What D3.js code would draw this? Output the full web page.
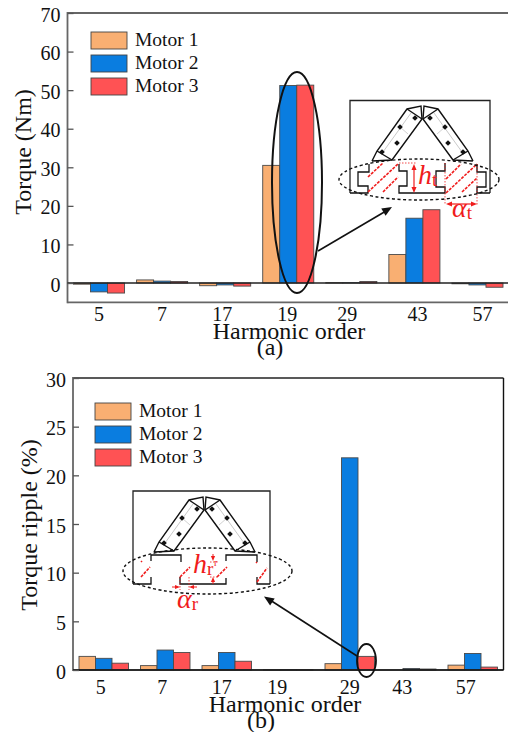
<!DOCTYPE html>
<html><head><meta charset="utf-8">
<script src="https://cdn.jsdelivr.net/npm/d3@7/dist/d3.min.js"></script>
<style>html,body{margin:0;background:#fff;overflow:hidden}svg{display:block}text{font-family:"Liberation Serif",serif;fill:#111}</style>
</head><body><div id="c"></div>
<script>
const harmonics = ["5","7","17","19","29","43","57"];
const seriesNames = ["Motor 1","Motor 2","Motor 3"];
const colors = ["#f9af72","#0a7de0","#ff5254"];
const torque1 = [-0.3,0.8,-0.7,30.5,0.1,7.4,-0.2];
const torque2 = [-2.3,0.5,-0.5,51.2,0.1,16.8,-0.5];
const torque3 = [-2.6,0.4,-0.8,51.3,0.4,19.0,-1.1];
const ripple1 = [1.4,0.45,0.45,0.02,0.65,0,0.5];
const ripple2 = [1.2,2.05,1.8,0.03,21.8,0.15,1.7];
const ripple3 = [0.7,1.8,0.9,0.02,1.4,0.1,0.3];
const torqueTicks = [0,10,20,30,40,50,60,70];
const rippleTicks = [0,5,10,15,20,25,30];

const W=508,H=732;
const svg=d3.select("#c").append("svg").attr("width",W).attr("height",H);
const RED="#f01c1c";

function panel(o){
  const g=svg.append("g");
  const x=d3.scaleBand().domain(harmonics).range([o.l,o.r]).paddingInner(o.pad).paddingOuter(o.pad/2);
  const x1=d3.scaleBand().domain([0,1,2]).range([0,x.bandwidth()]);
  const y=d3.scaleLinear().domain(o.dom).range([o.b,o.t]);
  o.series.forEach((s,i)=>{
    g.append("g").selectAll("rect").data(s).join("rect")
      .attr("x",(d,j)=>x(harmonics[j])+x1(i))
      .attr("width",x1.bandwidth())
      .attr("y",d=>Math.min(y(d),y(0)))
      .attr("height",d=>Math.abs(y(d)-y(0)))
      .attr("fill",colors[i]).attr("stroke","#4a4a4a").attr("stroke-width",0.9);
  });
  const fl=(a,b,c,d,col,w)=>g.append("line").attr("x1",a).attr("y1",b).attr("x2",c).attr("y2",d).attr("stroke",col).attr("stroke-width",w);
  fl(o.l,o.t,o.r,o.t,o.topCol,o.topW);
  fl(o.l,o.t-1,o.l,o.b+1,"#666",1.8);
  fl(o.l,o.b,o.r,o.b,o.botCol,o.botW);
  if(o.right) fl(o.r,o.t,o.r,o.b,"#111",1.4);
  fl(o.l,y(0),o.r,y(0),"#222",1.4);
  const ya=g.append("g").attr("transform",`translate(${o.l},0)`)
    .call(d3.axisLeft(y).tickValues(o.ticks).tickSize(-6).tickPadding(7).tickFormat(d3.format("d")));
  ya.select(".domain").remove();
  ya.selectAll("line").attr("stroke","#555").attr("stroke-width",1.3);
  ya.selectAll("text").attr("font-size",20).attr("dy","0.4em");
  const xa=g.append("g").attr("transform",`translate(0,${o.xlab})`)
    .call(d3.axisBottom(x).tickSize(0).tickPadding(0));
  xa.select(".domain").remove();
  xa.selectAll("text").attr("font-size",20).attr("y",0).attr("dy",0).attr("dx",(d,i)=>o.off[i]);
  g.append("text").attr("x",o.xtx).attr("y",o.xty).attr("text-anchor","middle").attr("font-size",24).text("Harmonic order");
  g.append("text").attr("x",o.captx).attr("y",o.capty).attr("text-anchor","middle").attr("font-size",24).text(o.cap);
  g.append("text").attr("transform",`translate(${o.ytx},${o.yty}) rotate(-90)`).attr("text-anchor","middle").attr("font-size",o.yfs).text(o.ylabel);
  seriesNames.forEach((n,i)=>{
    g.append("rect").attr("x",o.lx).attr("y",o.ly+i*o.ls).attr("width",o.lw).attr("height",17)
      .attr("fill",colors[i]).attr("stroke","#444").attr("stroke-width",0.9);
    g.append("text").attr("x",o.lx+o.lw+8).attr("y",o.ly+i*o.ls+14).attr("font-size",19.5).text(n);
  });
}

panel({l:67.5,r:509,t:13,b:302.3,pad:12/63,dom:[-5,70],series:[torque1,torque2,torque3],ticks:torqueTicks,
  topCol:"#666",topW:2,botCol:"#666",botW:1.8,right:false,
  xlab:321,off:[0,0,-3,-1,-4,3,5],xtx:289,xty:339,captx:270,capty:355,cap:"(a)",ylabel:"Torque (Nm)",yfs:24,ytx:31,yty:152,lx:91,ly:32,ls:23,lw:36});
panel({l:73,r:503.5,t:378,b:670,pad:12/61.5,dom:[0,30],series:[ripple1,ripple2,ripple3],ticks:rippleTicks,
  topCol:"#222",topW:1.4,botCol:"#111",botW:1.6,right:true,
  xlab:694,off:[-3,-3,-5,-11,0,-9,-7],xtx:285,xty:712,captx:261,capty:728,cap:"(b)",ylabel:"Torque ripple (%)",yfs:24,ytx:37,yty:525,lx:95,ly:403,ls:23,lw:36});

// schematic insets: fixed annotation artwork
const A=svg.append("g").attr("fill","none");
function arrowHead(x,y,ang,s,col){
  A.append("path").attr("d","M0,0L"+(-s)+","+(s*0.42)+"L"+(-s)+","+(-s*0.42)+"Z")
    .attr("transform",`translate(${x},${y}) rotate(${ang})`).attr("fill",col).attr("stroke","none");
}
function line(a,b,c,d,col,w,dash){const l=A.append("line").attr("x1",a).attr("y1",b).attr("x2",c).attr("y2",d).attr("stroke",col).attr("stroke-width",w);if(dash)l.attr("stroke-dasharray",dash);}
function poly(pts,w,col){A.append("path").attr("d","M"+pts.map(q=>q.join(",")).join("L")).attr("stroke",col||"#111").attr("stroke-width",w).attr("fill","none");}
const outline=[[372,161],[377,151],[407,109],[421,106],[422,119],[392,160],[372,161]];
function vee(dx,dy){
  [1,-1].forEach(s=>{
    const T=q=>[s>0?q[0]+dx:845-q[0]+dx,q[1]+dy];
    poly([[383,152],[411,113]].map(T),0.8,"#bbb");
    poly([[400,127],[408,134]].map(T),0.7,"#bbb");
    poly(outline.map(T),1.4);
    poly([[407,109],[422,119]].map(T),1.4);
    poly([[377,151],[392,160]].map(T),1.4);
    [[415,118],[400,127],[397,143],[382,152]].forEach(q=>{const a=T(q);
      A.append("rect").attr("x",a[0]-2).attr("y",a[1]-2).attr("width",4).attr("height",4).attr("transform",`rotate(45 ${a[0]} ${a[1]})`).attr("fill","#111");});
  });
}
const rt=(x,y,main,sub,fs)=>{const t=A.append("text").attr("x",x).attr("y",y).style("fill",RED).attr("font-size",fs).attr("font-style","italic").text(main);
  t.append("tspan").attr("font-style","normal").attr("font-size",fs*0.68).attr("dy",2).text(sub);};

// inset (a)
poly([[350,193],[350,100.5],[490,100.5],[490,193]],1.3,"#222");
vee(0,0);
poly([[350,193],[368,193],[368,186],[358,186],[358,172],[369,172],[369,164]],1.3);
poly([[399,164],[399,171],[407,171],[407,186],[399,186],[399,193],[445,193],[445,187],[436,187],[436,171],[445,171],[445,163]],1.3);
poly([[477,164],[477,172],[486,172],[486,187],[477,187],[477,193],[490,193]],1.3);
[[368,177,383,163],[368,192,398,164],[383,192,398,177],[446,179,461,164],[446,193,477,164],[462,192,477,178]].forEach(d=>line(d[0],d[1],d[2],d[3],RED,1.6,"3 1.2"));
line(399,163,417,163,RED,0.8,"1.5 1.5");
line(445,163,445,205,RED,0.8,"1.5 1.5");line(477,164,477,205,RED,0.8,"1.5 1.5");
line(414,169,414,189,RED,1.2);arrowHead(414,164,-90,6,RED);arrowHead(414,193,90,6,RED);
line(451,204,472,204,RED,1.2);arrowHead(446,204,180,6,RED);arrowHead(477,204,0,6,RED);
A.append("ellipse").attr("cx",419).attr("cy",179.5).attr("rx",80).attr("ry",20.5).attr("stroke","#111").attr("stroke-width",1.4).attr("stroke-dasharray","3 2.5");
rt(418,184,"h","t",28);
rt(452,217,"α","t",28);
A.append("ellipse").attr("cx",297).attr("cy",182.5).attr("rx",25).attr("ry",110.5).attr("stroke","#111").attr("stroke-width",2);
line(318,251,386,211,"#111",1.6);arrowHead(392,207,-31,10,"#111");

// inset (b)
poly([[133,584],[133,491],[270,491],[270,584]],1.3,"#222");
vee(-218,391);
poly([[133,584],[151,584],[151,577]],1.3);
poly([[151,561],[151,555],[181,555],[181,562]],1.3);
poly([[180,577],[180,584],[226,584],[226,578]],1.3);
poly([[226,561],[226,555],[257,555],[257,562]],1.3);
poly([[257,577],[257,584],[270,584]],1.3);
[[141,577,150,567],[180,577,190,567],[217,577,227,567],[257,582,267,568],[141,562,142,561],[256,563,257,562]].forEach(d=>line(d[0],d[1],d[2],d[3],RED,1.6,"3 1.2"));
line(213,554,213,557,RED,1);line(213,584,213,581,RED,1);
arrowHead(213,561,90,5,RED);arrowHead(213,577,-90,5,RED);
line(210,562,218,562,RED,0.8,"1.5 1.5");line(210,577,218,577,RED,0.8,"1.5 1.5");
line(172,587,176,587,RED,1);line(197,587,193,587,RED,1);
arrowHead(180,587,0,5,RED);arrowHead(189,587,180,5,RED);
line(180,577,180,590,RED,0.8,"1.5 1.5");line(189,577,189,590,RED,0.8,"1.5 1.5");
A.append("ellipse").attr("cx",207.5).attr("cy",571).attr("rx",84.5).attr("ry",23).attr("stroke","#111").attr("stroke-width",1.4).attr("stroke-dasharray","3 2.5");
rt(193,573,"h","r",28);
rt(177,608,"α","r",28);
A.append("text").attr("x",214).attr("y",566).style("fill",RED).attr("font-size",10).text("r");
A.append("ellipse").attr("cx",366.5).attr("cy",660.5).attr("rx",9.5).attr("ry",16.5).attr("stroke","#111").attr("stroke-width",1.8);
line(357,656,270,600,"#111",1.6);arrowHead(264,596.5,-147,10,"#111");
</script></body></html>
